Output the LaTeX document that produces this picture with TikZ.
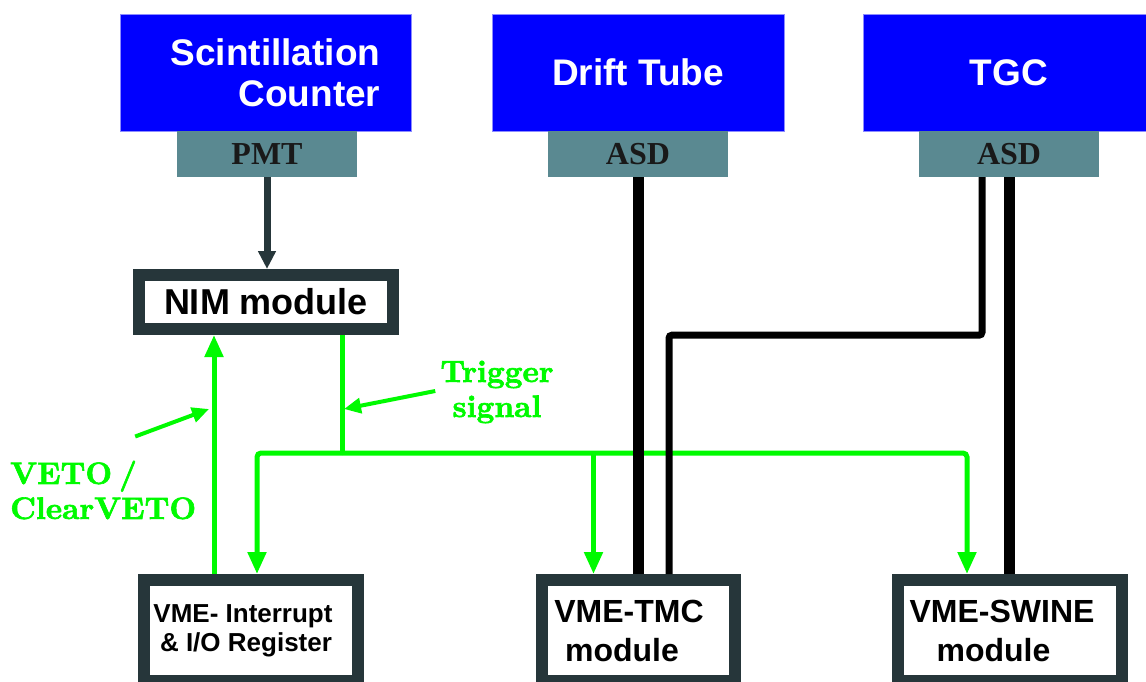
\documentclass[tikz,border=0pt]{standalone}
\usepackage{fontspec}
\setsansfont{Liberation Sans}
\newfontfamily\serifhead{Liberation Serif}
\newfontfamily\greenfont{lmroman10-bold}[Extension=.otf,FakeBold=2]
\usetikzlibrary{arrows.meta}
\definecolor{detblue}{RGB}{0,0,255}
\definecolor{asdgray}{RGB}{90,137,145}
\definecolor{frame}{RGB}{38,54,58}
\definecolor{siggreen}{RGB}{0,250,0}

\begin{document}
\begin{tikzpicture}[x=1pt,y=-1pt,>={Triangle[width=18pt,length=22pt]},
  detector/.style={fill=detblue,draw=detblue!45!white,line width=0.8pt,inner sep=0pt,
    text=white,font=\sffamily\bfseries\fontsize{37}{41}\selectfont},
  frontend/.style={fill=asdgray,inner sep=0pt,minimum width=180pt,minimum height=46pt,
    text=black!90,font=\serifhead\bfseries\fontsize{32}{36}\selectfont},
  module/.style={draw=frame,line width=12pt,fill=white,inner sep=0pt,
    font=\sffamily\bfseries\fontsize{32}{39}\selectfont},
  sigline/.style={draw=siggreen,line width=5pt},
  cable/.style={draw=black,line width=11pt},
  thincable/.style={draw=black,line width=7pt,rounded corners=3pt},
  siglabel/.style={text=siggreen,inner sep=0pt,font=\greenfont\fontsize{31}{35}\selectfont},
  labarrow/.style={draw=siggreen,line width=4pt,-{Triangle[width=15pt,length=17pt]}}]
\useasboundingbox (0,0) rectangle (1146,682);
\node[detector,minimum width=291pt,minimum height=117pt,align=right] (scint) at (265.5,72.5)
  {\hspace*{20pt}Scintillation\\\hspace*{20pt}Counter};
\node[detector,minimum width=292pt,minimum height=117pt] (drift) at (638,72.5) {Drift Tube};
\node[detector,minimum width=292pt,minimum height=117pt] (tgc) at (1009,72.5) {TGC};
\node[frontend] (pmt) at (267,154) {PMT};
\node[frontend] (asd1) at (638,154) {ASD};
\node[frontend] (asd2) at (1009,154) {ASD};
\node[module,minimum width=254pt,minimum height=54pt,font=\sffamily\bfseries\fontsize{36}{40}\selectfont]
  (nim) at (266,302) {NIM module};
\node[module,minimum width=214pt,minimum height=101pt,align=center,
  font=\sffamily\bfseries\fontsize{26}{29}\selectfont] (io) at (251,630.5)
  {VME- Interrupt\hspace*{16pt}\\\& I/O Register\hspace*{10pt}};
\node[module,minimum width=193pt,minimum height=101pt,align=center] (tmc) at (638.5,630.5)
  {VME-TMC\hspace*{19pt}\\module\hspace*{33pt}};
\node[module,minimum width=224pt,minimum height=101pt,align=center] (swine) at (1010,630.5)
  {VME-SWINE\hspace*{16pt}\\module\hspace*{33pt}};
\node[siglabel,align=center] (trig) at (497,392) {Trigger\\signal};
\node[siglabel,align=left,anchor=west] (veto) at (10,490) {VETO\hspace{7pt}/\\ClearVETO};
\coordinate (bus) at (342,453);
\coordinate (trigtap) at (344,409);
\coordinate (vetotap) at (209,409);
\draw[frame,line width=7pt,-{Triangle[width=17pt,length=18pt]}] (pmt.south) -- (pmt.south |- nim.north);
\draw[sigline] (nim.south -| bus) -- (bus);
\draw[sigline,->,rounded corners=4pt] (bus) -| ([xshift=6pt]io.north);
\draw[sigline,->,rounded corners=4pt] (bus) -| ([xshift=-43pt]swine.north);
\draw[sigline,->] ([xshift=-45pt]tmc.north |- bus) -- ([xshift=-45pt]tmc.north);
\draw[sigline,->] ([xshift=-37pt]io.north) -- ([xshift=-37pt]io.north |- nim.south);
\draw[labarrow] ([xshift=-5pt,yshift=1pt]trig.west) -- (trigtap);
\draw[labarrow] ([shift={(32,-24)}]veto.north) -- (vetotap);
\draw[cable] (asd1.south) -- (asd1.south |- tmc.north);
\draw[thincable] ([xshift=-27pt]asd2.south) -- ++(0,158) -| ([xshift=30.5pt]tmc.north);
\draw[cable] (asd2.south) -- (asd2.south |- swine.north);
\end{tikzpicture}
\end{document}
